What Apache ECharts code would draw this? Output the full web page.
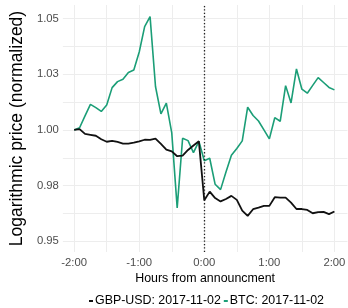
<!DOCTYPE html>
<html>
<head>
<meta charset="utf-8">
<script src="https://cdn.jsdelivr.net/npm/echarts@6/dist/echarts.min.js"></script>
<style>
  html, body { margin: 0; padding: 0; background: #fff; }
  #main { width: 348px; height: 308px; }
</style>
</head>
<body>
<div id="main"></div>
<script>
// minutes relative to the announcement
var minutes = [-120, -115, -110, -105, -100, -95, -90, -85, -80, -75, -70, -65, -60, -55, -50, -45, -40,
  -35, -30, -25, -20, -15, -10, -5, 0, 5, 10, 15, 20, 25, 30, 35, 40, 45, 50, 55, 60, 65, 70, 75, 80,
  85, 90, 95, 100, 105, 110, 115, 120];

var gbpUsd = [1.0000, 1.0004, 0.9982, 0.9978, 0.9974, 0.9958, 0.9947, 0.9951, 0.9946, 0.9939, 0.9939,
  0.9943, 0.9949, 0.9956, 0.9955, 0.9961, 0.9937, 0.9912, 0.9904, 0.9882, 0.9885, 0.9910, 0.9930,
  0.9949, 0.9684, 0.9723, 0.9694, 0.9679, 0.9690, 0.9704, 0.9686, 0.9638, 0.9614, 0.9644, 0.9651,
  0.9659, 0.9659, 0.9698, 0.9696, 0.9696, 0.9674, 0.9645, 0.9645, 0.9641, 0.9626, 0.9631, 0.9632,
  0.9622, 0.9634];

var btc = [1.0000, 1.0010, 1.0063, 1.0115, 1.0100, 1.0083, 1.0112, 1.0190, 1.0217, 1.0228, 1.0258,
  1.0269, 1.0350, 1.0464, 1.0509, 1.0195, 1.0072, 1.0120, 0.9987, 0.9650, 0.9963, 0.9952, 0.9898,
  0.9949, 0.9862, 0.9873, 0.9756, 0.9732, 0.9811, 0.9886, 0.9917, 0.9951, 1.0102, 1.0065, 1.0040,
  1.0000, 0.9960, 1.0055, 1.0039, 1.0199, 1.0121, 1.0274, 1.0183, 1.0165, 1.0200, 1.0235, 1.0213,
  1.0191, 1.0180];

var xTicks = [-120, -60, 0, 60, 120];
var xTickLabels = ['-2:00', '-1:00', '0:00', '1:00', '2:00'];
var xGrid = [-120, -90, -60, -30, 0, 30, 60, 90, 120];

var yTicks = [0.95, 0.975, 1.0, 1.025, 1.05];
var yTickLabels = ['0.95', '0.98', '1.00', '1.03', '1.05'];
var yGrid = [0.95, 0.9625, 0.975, 0.9875, 1.0, 1.0125, 1.025, 1.0375, 1.05];

var seriesNames = ['GBP-USD: 2017-11-02', 'BTC: 2017-11-02'];

function pickLabel(ticks, labels) {
    return function (v) {
        for (var i = 0; i < ticks.length; i++) {
            if (Math.abs(ticks[i] - v) < 1e-6) return labels[i];
        }
        return '';
    };
}

var font = "'Liberation Sans', Arial, sans-serif";

var myChart = echarts.init(document.getElementById('main'), null, {renderer: 'canvas'});

var option = {
    animation: false,
    backgroundColor: '#fff',
    grid: {
        left: 54,
        top: 5,
        width: 295.2,
        height: 247
    },
    legend: {
        left: 84,
        top: 290,
        width: 400,
        itemWidth: 4,
        itemHeight: 2,
        itemGap: 3,
        icon: 'rect',
        textStyle: {
            color: '#000',
            fontSize: 12.4,
            fontFamily: font,
            padding: [0, 0, 0, -3]
        },
        data: seriesNames
    },
    xAxis: {
        type: 'value',
        min: -130.4,
        max: 132,
        name: 'Hours from announcment',
        nameLocation: 'middle',
        nameGap: 18,
        nameTextStyle: {
            color: '#000',
            fontSize: 12.4,
            fontFamily: font,
            verticalAlign: 'top'
        },
        axisLine: {show: false},
        axisTick: {show: false, customValues: xGrid},
        axisLabel: {
            customValues: xTicks,
            formatter: pickLabel(xTicks, xTickLabels),
            color: '#4d4d4d',
            fontSize: 11.3,
            fontFamily: font,
            margin: 5
        },
        splitLine: {
            show: true,
            lineStyle: {color: '#ededed', width: 1}
        }
    },
    yAxis: {
        type: 'value',
        min: 0.9452,
        max: 1.0561,
        name: 'Logarithmic price (normalized)',
        nameLocation: 'middle',
        nameGap: 17,
        nameTextStyle: {
            color: '#000',
            fontSize: 17.5,
            fontFamily: font
        },
        axisLine: {show: false},
        axisTick: {show: false, customValues: yGrid},
        axisLabel: {
            customValues: yTicks,
            formatter: pickLabel(yTicks, yTickLabels),
            color: '#4d4d4d',
            fontSize: 11.3,
            fontFamily: font,
            margin: 4
        },
        splitLine: {
            show: true,
            lineStyle: {color: '#ededed', width: 1}
        }
    },
    series: [
        {
            name: seriesNames[0],
            type: 'line',
            data: minutes.map(function (m, i) { return [m, gbpUsd[i]]; }),
            showSymbol: false,
            lineStyle: {color: '#111', width: 1.8},
            itemStyle: {color: '#111'},
            z: 3,
            markLine: {
                silent: true,
                symbol: ['none', 'none'],
                label: {show: false},
                lineStyle: {color: '#222', type: [1.3, 2.1], width: 1.3},
                data: [{xAxis: 0}]
            }
        },
        {
            name: seriesNames[1],
            type: 'line',
            data: minutes.map(function (m, i) { return [m, btc[i]]; }),
            showSymbol: false,
            lineStyle: {color: '#1b9e77', width: 1.6},
            itemStyle: {color: '#1b9e77'},
            z: 2
        }
    ]
};

myChart.setOption(option, true);
window.onresize = myChart.resize;
</script>
</body>
</html>
